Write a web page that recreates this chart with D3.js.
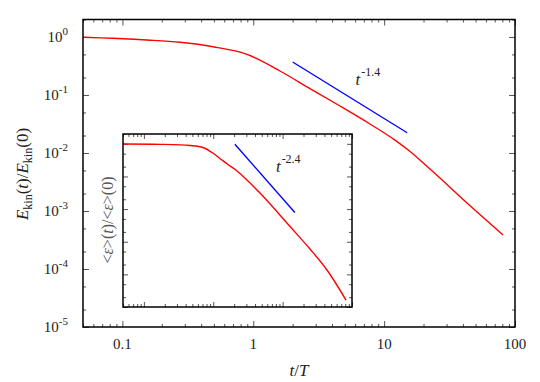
<!DOCTYPE html>
<html>
<head>
<meta charset="utf-8">
<script src="https://cdn.jsdelivr.net/npm/d3@7"></script>
<style>
  body { margin: 0; background: #fff; }
  .frame { fill: none; stroke: #000; stroke-width: 1.5; }
  .tickAxis path { display: none; }
  .tickAxis line { stroke: #555; stroke-width: 1; }
</style>
</head>
<body>
<div id="chart"></div>
<script>
// main curve: kinetic energy decay
const timeMain = [0.05, 0.0848, 0.154, 0.276, 0.493, 0.896, 1.6, 2.71, 4.6, 7.8, 12.1, 15.8, 20.5, 26.7, 43, 81]
const ekinMain = [0.987, 0.948, 0.886, 0.809, 0.679, 0.502, 0.259, 0.129, 0.0645, 0.0316, 0.0167, 0.0106, 0.00632, 0.0037, 0.00137, 0.000385]

// inset curve: dissipation rate
const timeInset = [0.05, 0.171, 0.462, 0.711, 0.96, 1.25, 1.63, 2.2, 4.72, 12.8, 24.8, 43.6, 82]
const epsInset = [0.986, 0.965, 0.887, 0.77, 0.541, 0.355, 0.232, 0.147, 0.031, 0.00292, 0.000597, 0.000136, 0.0000163]

// power-law guide lines
const fitMainT = [2.0, 15.0]
const fitMainV = [0.37, 0.0223]
const fitInsetT = [2.05, 15.0]
const fitInsetV = [0.965, 0.0079]

// tick values / labels
const xDomain = [0.05, 100]
const yDomain = [1e-5, 2]
const xTickValues = [0.1, 1, 10, 100]
const xTickLabels = ["0.1", "1", "10", "100"]
const yTickValues = [1, 1e-1, 1e-2, 1e-3, 1e-4, 1e-5]
const yTickExponents = ["0", "-1", "-2", "-3", "-4", "-5"]

const FONT = "'Liberation Serif', 'Times New Roman', serif"
const W = 540, H = 382
const svg = d3.select("#chart").append("svg")
    .attr("width", W)
    .attr("height", H)
    .style("font-family", FONT)

svg.append("rect").attr("width", W).attr("height", H).attr("fill", "#fff")

function txt(sel) {
    return sel.append("text").style("font-family", FONT).attr("fill", "#222")
}

// minor ticks helpers
function minorTicks(domain, mults) {
    const out = []
    for (let e = -6; e <= 3; e++) {
        mults.forEach(m => {
            const v = m * Math.pow(10, e)
            if (v >= domain[0] * 0.999 && v <= domain[1] * 1.001) out.push(v)
        })
    }
    return out
}

function drawPanel(g, box, opts) {
    const x = d3.scaleLog().domain(xDomain).range([box.x0, box.x1])
    const y = d3.scaleLog().domain(yDomain).range([box.y1, box.y0])

    const xMinor = minorTicks(xDomain, [2, 3, 4, 5, 6, 7, 8, 9])
    const yMinor = minorTicks(yDomain, [2, 5])

    // major + minor ticks on all four sides, pointing inward
    const sides = [
        { ax: d3.axisBottom(x), pos: "translate(0," + box.y1 + ")", ticks: xTickValues, minor: xMinor },
        { ax: d3.axisTop(x), pos: "translate(0," + box.y0 + ")", ticks: xTickValues, minor: xMinor },
        { ax: d3.axisLeft(y), pos: "translate(" + box.x0 + ",0)", ticks: yTickValues, minor: yMinor },
        { ax: d3.axisRight(y), pos: "translate(" + box.x1 + ",0)", ticks: yTickValues, minor: yMinor }
    ]
    sides.forEach(s => {
        g.append("g").attr("class", "tickAxis").attr("transform", s.pos)
            .call(s.ax.tickValues(s.ticks).tickSize(-opts.major).tickFormat(""))
        g.append("g").attr("class", "tickAxis").attr("transform", s.pos)
            .call(s.ax.tickValues(s.minor).tickSize(-opts.minor).tickFormat(""))
    })

    // curve
    const line = d3.line()
        .x(d => x(d[0]))
        .y(d => y(d[1]))
        .curve(d3.curveCatmullRom.alpha(0.5))

    g.append("path")
        .datum(opts.t.map((t, i) => [t, opts.v[i]]))
        .attr("d", line)
        .attr("fill", "none")
        .attr("stroke", "#ff0000")
        .attr("stroke-width", 1.4)

    g.append("path")
        .datum(opts.fitT.map((t, i) => [t, opts.fitV[i]]))
        .attr("d", d3.line().x(d => x(d[0])).y(d => y(d[1])))
        .attr("fill", "none")
        .attr("stroke", "#0000ff")
        .attr("stroke-width", 1.4)

    // power-law label
    const lab = txt(g)
        .attr("x", x(opts.labelAt[0]))
        .attr("y", y(opts.labelAt[1]))
        .style("font-size", "17px")
    lab.append("tspan").style("font-style", "italic").text("t")
    lab.append("tspan").attr("dy", -9).attr("dx", 1).style("font-size", "12px").text(opts.labelExp)

    g.append("rect")
        .attr("class", "frame")
        .attr("x", box.x0).attr("y", box.y0)
        .attr("width", box.x1 - box.x0).attr("height", box.y1 - box.y0)

    return { x, y }
}

// main panel
const mainBox = { x0: 83, x1: 515, y0: 19.5, y1: 327 }
const main = drawPanel(svg.append("g"), mainBox, {
    major: 6, minor: 3,
    t: timeMain, v: ekinMain,
    fitT: fitMainT, fitV: fitMainV,
    labelAt: [6.05, 0.149], labelExp: "-1.4"
})

// main tick labels
xTickValues.forEach((v, i) => {
    txt(svg)
        .attr("x", main.x(v))
        .attr("y", 349)
        .attr("text-anchor", "middle")
        .style("font-size", "15px")
        .text(xTickLabels[i])
})
yTickValues.forEach((v, i) => {
    const t = txt(svg)
        .attr("x", 68)
        .attr("y", main.y(v) + 5)
        .attr("text-anchor", "end")
        .style("font-size", "15px")
    t.append("tspan").text("10")
    t.append("tspan").attr("dy", -7).style("font-size", "11px").text(yTickExponents[i])
})

// axis titles
const xt = txt(svg)
    .attr("x", 299).attr("y", 376)
    .attr("text-anchor", "middle")
    .style("font-size", "17px")
xt.append("tspan").style("font-style", "italic").text("t")
xt.append("tspan").text("/")
xt.append("tspan").style("font-style", "italic").text("T")

const yt = txt(svg)
    .attr("transform", "translate(28,174) rotate(-90)")
    .attr("text-anchor", "middle")
    .style("font-size", "17px")
function ekin(sel, arg) {
    sel.append("tspan").style("font-style", "italic").text("E")
    sel.append("tspan").attr("dy", 4).style("font-size", "12px").text("kin")
    sel.append("tspan").attr("dy", -4).text("(")
    if (arg === "t") sel.append("tspan").style("font-style", "italic").text("t")
    else sel.append("tspan").text(arg)
    sel.append("tspan").text(")")
}
ekin(yt, "t")
yt.append("tspan").text("/")
ekin(yt, "0")

// inset panel
const insetBox = { x0: 123, x1: 352, y0: 134, y1: 307 }
const inset = svg.append("g")
inset.append("rect")
    .attr("x", insetBox.x0).attr("y", insetBox.y0)
    .attr("width", insetBox.x1 - insetBox.x0).attr("height", insetBox.y1 - insetBox.y0)
    .attr("fill", "#fff")
drawPanel(inset, insetBox, {
    major: 5, minor: 3,
    t: timeInset, v: epsInset,
    fitT: fitInsetT, fitV: fitInsetV,
    labelAt: [8.0, 0.133], labelExp: "-2.4"
})

const it = txt(svg)
    .attr("transform", "translate(113,220) rotate(-90)")
    .attr("text-anchor", "middle")
    .style("font-size", "16px")
    .attr("fill", "#555")
it.append("tspan").text("<")
it.append("tspan").style("font-style", "italic").text("ε")
it.append("tspan").text(">(")
it.append("tspan").style("font-style", "italic").text("t")
it.append("tspan").text(")/<")
it.append("tspan").style("font-style", "italic").text("ε")
it.append("tspan").text(">(0)")
</script>
</body>
</html>
